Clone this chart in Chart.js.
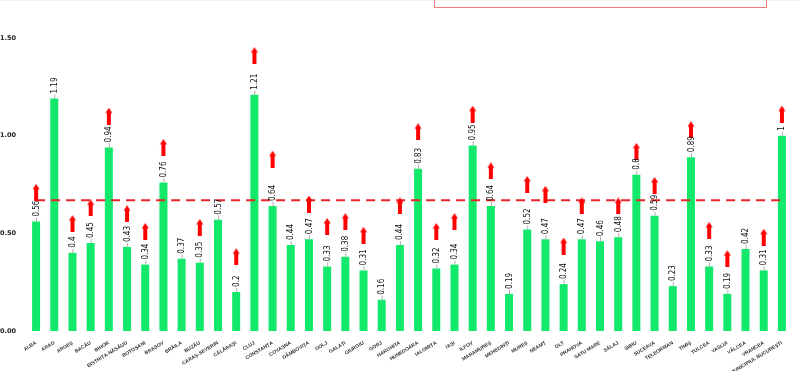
<!DOCTYPE html>
<html>
<head>
<meta charset="utf-8">
<script src="https://cdn.jsdelivr.net/npm/chart.js@4.4.1/dist/chart.umd.min.js"></script>
<style>
html,body{margin:0;padding:0;background:#fff;}
#wrap{position:relative;width:800px;height:371px;overflow:hidden;}
#box{position:absolute;left:434px;top:-10px;width:331px;height:16px;border:1.5px solid #f27a7a;}
#topband{position:absolute;left:0;top:0;width:800px;height:1px;background:#f3f3f3;}
</style>
</head>
<body>
<div id="wrap">
<canvas id="c" width="800" height="371"></canvas>
<div id="topband"></div>
<div id="box"></div>
</div>
<script>
const categories = ["ALBA","ARAD","ARGEȘ","BACĂU","BIHOR","BISTRIȚA-NĂSĂUD","BOTOȘANI","BRAȘOV","BRĂILA","BUZĂU","CARAȘ-SEVERIN","CĂLĂRAȘI","CLUJ","CONSTANȚA","COVASNA","DÂMBOVIȚA","DOLJ","GALAȚI","GIURGIU","GORJ","HARGHITA","HUNEDOARA","IALOMIȚA","IAȘI","ILFOV","MARAMUREȘ","MEHEDINȚI","MUREȘ","NEAMȚ","OLT","PRAHOVA","SATU MARE","SĂLAJ","SIBIU","SUCEAVA","TELEORMAN","TIMIȘ","TULCEA","VASLUI","VÂLCEA","VRANCEA","MUNICIPIUL BUCUREȘTI"];
const values = [0.56,1.19,0.4,0.45,0.94,0.43,0.34,0.76,0.37,0.35,0.57,0.2,1.21,0.64,0.44,0.47,0.33,0.38,0.31,0.16,0.44,0.83,0.32,0.34,0.95,0.64,0.19,0.52,0.47,0.24,0.47,0.46,0.48,0.8,0.59,0.23,0.89,0.33,0.19,0.42,0.31,1];
const arrowValues = [0.71,null,0.55,0.63,1.10,0.60,0.51,0.94,null,0.53,null,0.38,1.41,0.88,null,0.65,0.535,0.56,0.49,null,0.64,1.02,0.51,0.56,1.11,0.82,null,0.75,0.70,0.435,0.64,null,0.64,0.92,0.745,null,1.03,0.515,0.37,null,0.48,1.11];
const thresholdValue = 0.67;
const yTicks = [0, 0.5, 1, 1.5];

// arrow marker image
const arrow = document.createElement('canvas');
arrow.width = 8; arrow.height = 17;
(function(){
  const g = arrow.getContext('2d');
  g.fillStyle = '#ff0000';
  g.beginPath();
  g.moveTo(4,0); g.lineTo(7.5,5.5); g.lineTo(0.5,5.5); g.closePath(); g.fill();
  g.fillRect(2,5,4,12);
})();

const valueLabels = {
  id:'valueLabels',
  afterDatasetsDraw(chart){
    const ctx = chart.ctx;
    const meta = chart.getDatasetMeta(0);
    ctx.save();
    meta.data.forEach((el,i)=>{
      const x = el.x, y = el.y;
      ctx.strokeStyle = '#999';
      ctx.lineWidth = 0.8;
      ctx.beginPath(); ctx.moveTo(x+0.5, y); ctx.lineTo(x+0.5, y-4); ctx.stroke();
      ctx.save();
      ctx.translate(x+0.5, y-5);
      ctx.rotate(-Math.PI/2);
      ctx.fillStyle = '#111';
      ctx.font = '8px "Liberation Sans Narrow", "DejaVu Sans Condensed", "Liberation Sans", sans-serif';
      ctx.textAlign = 'left';
      ctx.textBaseline = 'middle';
      ctx.fillText(String(values[i]), 0, 0);
      ctx.restore();
    });
    ctx.restore();
  }
};

new Chart(document.getElementById('c'), {
  data: {
    labels: categories,
    datasets: [
      {type:'bar', data: values, backgroundColor:'#12e86a', barPercentage:0.44, categoryPercentage:1, order:3},
      {type:'line', data: categories.map(()=>thresholdValue), borderColor:'#e8242a', borderWidth:2, borderDash:[9,6], pointRadius:0, fill:false, order:2},
      {type:'line', data: arrowValues, showLine:false, pointStyle: arrow, pointRadius:8, order:1}
    ]
  },
  options: {
    responsive:false,
    animation:false,
    events:[],
    layout:{padding:{top:38,left:0,right:5,bottom:0}},
    plugins:{legend:{display:false}, tooltip:{enabled:false}},
    scales:{
      x:{
        grid:{display:false}, border:{display:false},
        ticks:{autoSkip:false, minRotation:31, maxRotation:31, padding:1, color:'#333',
          font:{family:'"Liberation Sans", Arial, sans-serif', size:5, weight:'bold'}},
        afterFit(s){ s.height = 40; }
      },
      y:{
        min:0, max:1.5,
        grid:{display:false}, border:{display:false},
        afterBuildTicks(s){ s.ticks = yTicks.map(v=>({value:v})); },
        ticks:{crossAlign:'far', padding:0, color:'#222', callback:v=>Number(v).toFixed(2),
          font:{family:'"DejaVu Sans", sans-serif', size:6.5, weight:'bold'}},
        afterFit(s){ s.width = 27; }
      }
    }
  },
  plugins:[valueLabels]
});
</script>
</body>
</html>
